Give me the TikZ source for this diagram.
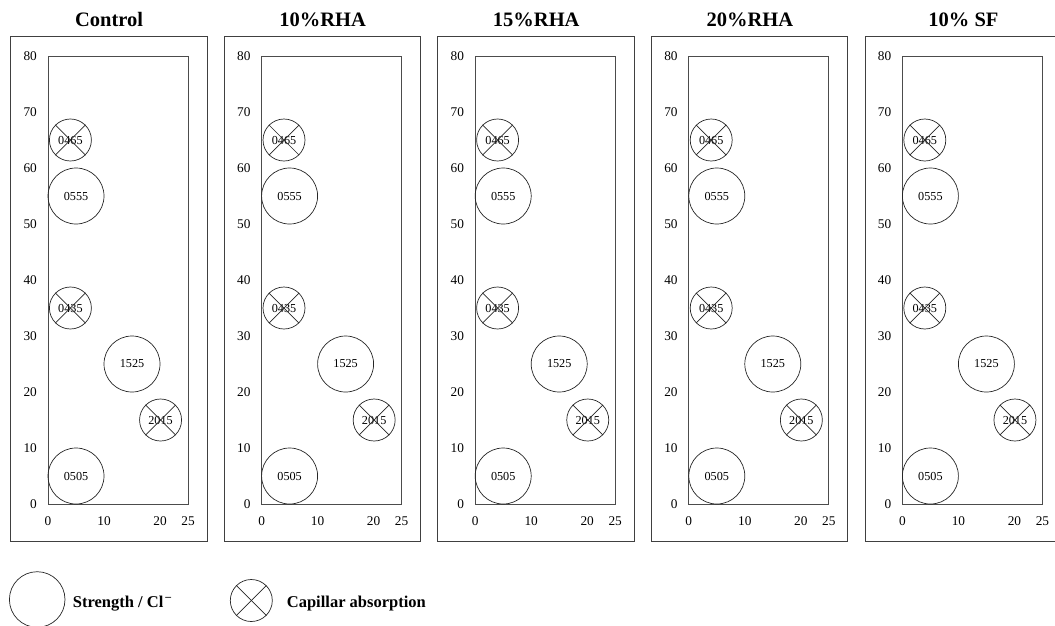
\documentclass[tikz,border=0pt]{standalone}
\usepackage{fontspec}
\setmainfont{Liberation Serif}
\begin{document}
\begin{tikzpicture}[x=1pt,y=-1pt,
  frame/.style={draw=black!75, line width=0.9pt},
  axisbox/.style={draw=black!70, line width=0.9pt},
  bigc/.style={circle, draw=black!85, line width=0.7pt, minimum size=56pt, inner sep=0pt, font=\fontsize{12.2}{14}\selectfont},
  smallc/.style={circle, draw=black!85, line width=0.7pt, minimum size=42pt, inner sep=0pt, font=\fontsize{12.2}{14}\selectfont},
  xline/.style={draw=black!85, line width=0.7pt},
  ticklab/.style={font=\fontsize{13.3}{15}\selectfont, inner sep=0pt},
  paneltitle/.style={font=\bfseries\fontsize{20.5}{24}\selectfont, inner sep=0pt},
  legendtext/.style={font=\bfseries\fontsize{16.5}{19}\selectfont, anchor=base west, inner sep=0pt}]
\useasboundingbox (0,0) rectangle (1055,625);
\clip (0,0) rectangle (1055,625);
\foreach \i/\t in {0/Control,1/10\%RHA,2/15\%RHA,3/20\%RHA,4/10\% SF}{
  \pgfmathsetmacro\X{48+213.6*\i}
  \begin{scope}[shift={(\X,504)}, x=5.6pt, y=5.6pt]
    % outer frame
    \draw[frame] (-6.66,-6.61) rectangle (28.39,83.45);
    % title
    \node[paneltitle] (title\i) at (10.9,86.45) {\t};
    % inner plot box
    \draw[axisbox] (0,0) rectangle (25,80);
    % y tick labels
    \foreach \v in {0,10,...,80}{
      \node[ticklab, anchor=east] (yl\i-\v) at (-1.96,\v) {\v};
    }
    % x tick labels
    \foreach \v in {0,10,20,25}{
      \node[ticklab] (xl\i-\v) at (\v,-2.98) {\v};
    }
    % strength circles
    \node[bigc] (s\i-555) at (5,55) {0555};
    \node[bigc] (s\i-1525) at (15,25) {1525};
    \node[bigc] (s\i-505) at (5,5) {0505};
    % capillar absorption circles
    \foreach \nm/\px/\py in {465/4/65,435/4/35,2015/20.1/15}{
      \node[smallc] (c\i-\nm) at (\px,\py) {\ifnum\nm<1000 0\fi\nm};
      \draw[xline] (c\i-\nm.45) -- (c\i-\nm.225);
      \draw[xline] (c\i-\nm.135) -- (c\i-\nm.315);
    }
  \end{scope}
}
% legend
\node[bigc, minimum size=55.6pt] (lgs) at (37.2,599.5) {};
\node[legendtext] (lgst) at (72.7,607) {Strength / Cl\textsuperscript{\,–}};
\node[smallc] (lgc) at (251.3,600.5) {};
\draw[xline] (lgc.45) -- (lgc.225);
\draw[xline] (lgc.135) -- (lgc.315);
\node[legendtext] (lgct) at (286.7,607) {Capillar absorption};
\end{tikzpicture}
\end{document}
